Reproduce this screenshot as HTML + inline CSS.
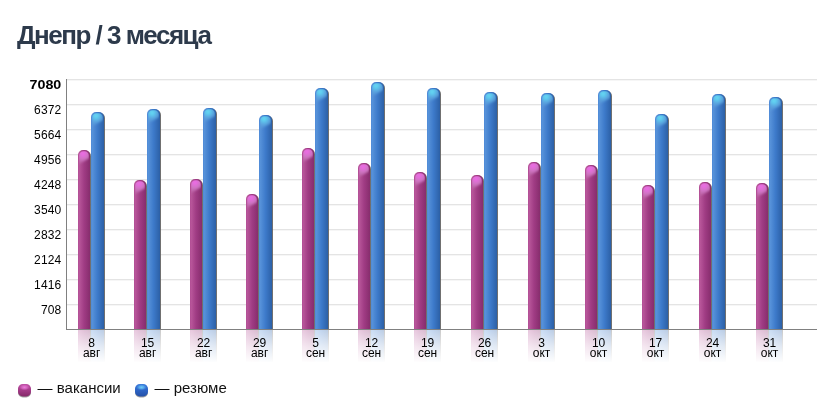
<!DOCTYPE html>
<html lang="ru"><head><meta charset="utf-8"><title>Днепр / 3 месяца</title>
<style>
html,body{margin:0;padding:0;background:#fff;}
body{width:836px;height:413px;overflow:hidden;position:relative;font-family:"Liberation Sans",sans-serif;}
h1{position:absolute;left:17px;top:19.6px;margin:0;font:bold 26px/30px "Liberation Sans",sans-serif;color:#2d3a4b;letter-spacing:-1.5px;white-space:nowrap;}
svg{position:absolute;left:0;top:0;}
.yl{font:12px "Liberation Sans",sans-serif;fill:#000;text-anchor:end;}
.xl{font:12px "Liberation Sans",sans-serif;fill:#000;text-anchor:middle;}
.lg{font:15px "Liberation Sans",sans-serif;fill:#111;}
</style></head><body>
<h1>Днепр / 3 месяца</h1>
<svg width="836" height="413" viewBox="0 0 836 413">
<defs>
<linearGradient id="gb" x1="0" x2="1" y1="0" y2="0"><stop offset="0" stop-color="#4a86d6"/><stop offset="0.08" stop-color="#5893da"/><stop offset="0.5" stop-color="#3d7aca"/><stop offset="1" stop-color="#2c60a6"/></linearGradient>
<linearGradient id="gp" x1="0" x2="1" y1="0" y2="0"><stop offset="0" stop-color="#b04c94"/><stop offset="0.1" stop-color="#b8569a"/><stop offset="0.5" stop-color="#a03c84"/><stop offset="1" stop-color="#872d6d"/></linearGradient>
<radialGradient id="hb" gradientUnits="userSpaceOnUse" cx="5" cy="3.8" r="11"><stop offset="0" stop-color="#6adcf4"/><stop offset="0.22" stop-color="#5ecaee"/><stop offset="0.5" stop-color="#5eaae2" stop-opacity="0.9"/><stop offset="1" stop-color="#5a98d8" stop-opacity="0.3"/></radialGradient>
<radialGradient id="hp" gradientUnits="userSpaceOnUse" cx="5" cy="3.6" r="11"><stop offset="0" stop-color="#f06eea"/><stop offset="0.2" stop-color="#e46cdc"/><stop offset="0.5" stop-color="#d27cc8" stop-opacity="0.9"/><stop offset="1" stop-color="#c074b0" stop-opacity="0.3"/></radialGradient>
<linearGradient id="rb" x1="0" x2="0" y1="0" y2="1"><stop offset="0" stop-color="#cfe0f4"/><stop offset="1" stop-color="#fff" stop-opacity="0"/></linearGradient>
<linearGradient id="rp" x1="0" x2="0" y1="0" y2="1"><stop offset="0" stop-color="#f0d4e8"/><stop offset="1" stop-color="#fff" stop-opacity="0"/></linearGradient>
<linearGradient id="sp" x1="0" x2="0" y1="0" y2="1"><stop offset="0" stop-color="#c050a6"/><stop offset="0.45" stop-color="#a63c8a"/><stop offset="1" stop-color="#842868"/></linearGradient>
<radialGradient id="shp" cx="0.5" cy="0.5" r="0.5"><stop offset="0" stop-color="#ec7edc"/><stop offset="0.5" stop-color="#dc6cc8" stop-opacity="0.8"/><stop offset="1" stop-color="#d468c0" stop-opacity="0"/></radialGradient>
<radialGradient id="shb" cx="0.5" cy="0.5" r="0.5"><stop offset="0" stop-color="#70ccf6"/><stop offset="0.5" stop-color="#5cb4f0" stop-opacity="0.8"/><stop offset="1" stop-color="#4a98e4" stop-opacity="0"/></radialGradient>
<filter id="bl2" x="-30%" y="-30%" width="160%" height="160%"><feGaussianBlur stdDeviation="0.7"/></filter>
<linearGradient id="sb" x1="0" x2="0" y1="0" y2="1"><stop offset="0" stop-color="#3c7cdc"/><stop offset="0.45" stop-color="#2e66c8"/><stop offset="1" stop-color="#2450a8"/></linearGradient>
<filter id="bl" x="-20%" y="-20%" width="140%" height="140%"><feGaussianBlur stdDeviation="0.9"/></filter>
<linearGradient id="fade" x1="0" x2="0" y1="0" y2="1"><stop offset="0" stop-color="#fff" stop-opacity="0.68"/><stop offset="0.5" stop-color="#fff" stop-opacity="0.86"/><stop offset="1" stop-color="#fff" stop-opacity="1"/></linearGradient>
<clipPath id="cpP"><path d="M1.2,20 V5.4 a4.2,4.2 0 0 1 4.2,-4.2 h1.1999999999999993 a4.2,4.2 0 0 1 4.2,4.2 V20 z"/></clipPath><g id="glP"><g clip-path="url(#cpP)"><path d="M-3,16.5 V-3 H15 V6.2 Q6.0,11.4 -3,16.5 z" fill="url(#hp)" filter="url(#bl)"/></g></g>
<clipPath id="cpB"><path d="M1.2,20 V5.4 a4.2,4.2 0 0 1 4.2,-4.2 h2.1999999999999993 a4.2,4.2 0 0 1 4.2,4.2 V20 z"/></clipPath><g id="glB"><g clip-path="url(#cpB)"><path d="M-3,16.5 V-3 H16 V6.2 Q6.5,11.4 -3,16.5 z" fill="url(#hb)" filter="url(#bl)"/></g></g>
</defs>

<rect x="67" y="79" width="750" height="1" fill="#e4e4e4"/><rect x="67" y="80" width="750" height="1" fill="#f6f6f6"/>
<rect x="67" y="104" width="750" height="1" fill="#e4e4e4"/><rect x="67" y="105" width="750" height="1" fill="#f6f6f6"/>
<rect x="67" y="129" width="750" height="1" fill="#e4e4e4"/><rect x="67" y="130" width="750" height="1" fill="#f6f6f6"/>
<rect x="67" y="154" width="750" height="1" fill="#e4e4e4"/><rect x="67" y="155" width="750" height="1" fill="#f6f6f6"/>
<rect x="67" y="179" width="750" height="1" fill="#e4e4e4"/><rect x="67" y="180" width="750" height="1" fill="#f6f6f6"/>
<rect x="67" y="204" width="750" height="1" fill="#e4e4e4"/><rect x="67" y="205" width="750" height="1" fill="#f6f6f6"/>
<rect x="67" y="229" width="750" height="1" fill="#e4e4e4"/><rect x="67" y="230" width="750" height="1" fill="#f6f6f6"/>
<rect x="67" y="254" width="750" height="1" fill="#e4e4e4"/><rect x="67" y="255" width="750" height="1" fill="#f6f6f6"/>
<rect x="67" y="279" width="750" height="1" fill="#e4e4e4"/><rect x="67" y="280" width="750" height="1" fill="#f6f6f6"/>
<rect x="67" y="304" width="750" height="1" fill="#e4e4e4"/><rect x="67" y="305" width="750" height="1" fill="#f6f6f6"/>
<rect x="66" y="79" width="1" height="251" fill="#808080"/>
<rect x="66" y="329" width="751" height="1" fill="#808080"/>
<rect x="78" y="330" width="12" height="32" fill="url(#gp)"/><rect x="90" y="330" width="1" height="32" fill="#5a5a5a"/>
<rect x="91" y="330" width="13" height="32" fill="url(#gb)"/><rect x="104" y="330" width="1" height="32" fill="#5a5a5a"/>
<rect x="77" y="330" width="29" height="33" fill="url(#fade)"/>
<path d="M86,151 a5,5 0 0 1 5,5 V329 h-5 z" fill="#606060" opacity="0.9"/>
<path d="M78,329 V155 a5,5 0 0 1 5,-5 h2 a5,5 0 0 1 5,5 V329 z" fill="url(#gp)"/>
<use href="#glP" x="78" y="150"/>
<path d="M100,113 a5,5 0 0 1 5,5 V329 h-5 z" fill="#606060" opacity="0.9"/>
<path d="M91,329 V117 a5,5 0 0 1 5,-5 h3 a5,5 0 0 1 5,5 V329 z" fill="url(#gb)"/>
<use href="#glB" x="91" y="112"/>
<rect x="134" y="330" width="12" height="32" fill="url(#gp)"/><rect x="146" y="330" width="1" height="32" fill="#5a5a5a"/>
<rect x="147" y="330" width="13" height="32" fill="url(#gb)"/><rect x="160" y="330" width="1" height="32" fill="#5a5a5a"/>
<rect x="133" y="330" width="29" height="33" fill="url(#fade)"/>
<path d="M142,181 a5,5 0 0 1 5,5 V329 h-5 z" fill="#606060" opacity="0.9"/>
<path d="M134,329 V185 a5,5 0 0 1 5,-5 h2 a5,5 0 0 1 5,5 V329 z" fill="url(#gp)"/>
<use href="#glP" x="134" y="180"/>
<path d="M156,110 a5,5 0 0 1 5,5 V329 h-5 z" fill="#606060" opacity="0.9"/>
<path d="M147,329 V114 a5,5 0 0 1 5,-5 h3 a5,5 0 0 1 5,5 V329 z" fill="url(#gb)"/>
<use href="#glB" x="147" y="109"/>
<rect x="190" y="330" width="12" height="32" fill="url(#gp)"/><rect x="202" y="330" width="1" height="32" fill="#5a5a5a"/>
<rect x="203" y="330" width="13" height="32" fill="url(#gb)"/><rect x="216" y="330" width="1" height="32" fill="#5a5a5a"/>
<rect x="189" y="330" width="29" height="33" fill="url(#fade)"/>
<path d="M198,180 a5,5 0 0 1 5,5 V329 h-5 z" fill="#606060" opacity="0.9"/>
<path d="M190,329 V184 a5,5 0 0 1 5,-5 h2 a5,5 0 0 1 5,5 V329 z" fill="url(#gp)"/>
<use href="#glP" x="190" y="179"/>
<path d="M212,109 a5,5 0 0 1 5,5 V329 h-5 z" fill="#606060" opacity="0.9"/>
<path d="M203,329 V113 a5,5 0 0 1 5,-5 h3 a5,5 0 0 1 5,5 V329 z" fill="url(#gb)"/>
<use href="#glB" x="203" y="108"/>
<rect x="246" y="330" width="12" height="32" fill="url(#gp)"/><rect x="258" y="330" width="1" height="32" fill="#5a5a5a"/>
<rect x="259" y="330" width="13" height="32" fill="url(#gb)"/><rect x="272" y="330" width="1" height="32" fill="#5a5a5a"/>
<rect x="245" y="330" width="29" height="33" fill="url(#fade)"/>
<path d="M254,195 a5,5 0 0 1 5,5 V329 h-5 z" fill="#606060" opacity="0.9"/>
<path d="M246,329 V199 a5,5 0 0 1 5,-5 h2 a5,5 0 0 1 5,5 V329 z" fill="url(#gp)"/>
<use href="#glP" x="246" y="194"/>
<path d="M268,116 a5,5 0 0 1 5,5 V329 h-5 z" fill="#606060" opacity="0.9"/>
<path d="M259,329 V120 a5,5 0 0 1 5,-5 h3 a5,5 0 0 1 5,5 V329 z" fill="url(#gb)"/>
<use href="#glB" x="259" y="115"/>
<rect x="302" y="330" width="12" height="32" fill="url(#gp)"/><rect x="314" y="330" width="1" height="32" fill="#5a5a5a"/>
<rect x="315" y="330" width="13" height="32" fill="url(#gb)"/><rect x="328" y="330" width="1" height="32" fill="#5a5a5a"/>
<rect x="301" y="330" width="29" height="33" fill="url(#fade)"/>
<path d="M310,149 a5,5 0 0 1 5,5 V329 h-5 z" fill="#606060" opacity="0.9"/>
<path d="M302,329 V153 a5,5 0 0 1 5,-5 h2 a5,5 0 0 1 5,5 V329 z" fill="url(#gp)"/>
<use href="#glP" x="302" y="148"/>
<path d="M324,89 a5,5 0 0 1 5,5 V329 h-5 z" fill="#606060" opacity="0.9"/>
<path d="M315,329 V93 a5,5 0 0 1 5,-5 h3 a5,5 0 0 1 5,5 V329 z" fill="url(#gb)"/>
<use href="#glB" x="315" y="88"/>
<rect x="358" y="330" width="12" height="32" fill="url(#gp)"/><rect x="370" y="330" width="1" height="32" fill="#5a5a5a"/>
<rect x="371" y="330" width="13" height="32" fill="url(#gb)"/><rect x="384" y="330" width="1" height="32" fill="#5a5a5a"/>
<rect x="357" y="330" width="29" height="33" fill="url(#fade)"/>
<path d="M366,164 a5,5 0 0 1 5,5 V329 h-5 z" fill="#606060" opacity="0.9"/>
<path d="M358,329 V168 a5,5 0 0 1 5,-5 h2 a5,5 0 0 1 5,5 V329 z" fill="url(#gp)"/>
<use href="#glP" x="358" y="163"/>
<path d="M380,83 a5,5 0 0 1 5,5 V329 h-5 z" fill="#606060" opacity="0.9"/>
<path d="M371,329 V87 a5,5 0 0 1 5,-5 h3 a5,5 0 0 1 5,5 V329 z" fill="url(#gb)"/>
<use href="#glB" x="371" y="82"/>
<rect x="414" y="330" width="12" height="32" fill="url(#gp)"/><rect x="426" y="330" width="1" height="32" fill="#5a5a5a"/>
<rect x="427" y="330" width="13" height="32" fill="url(#gb)"/><rect x="440" y="330" width="1" height="32" fill="#5a5a5a"/>
<rect x="413" y="330" width="29" height="33" fill="url(#fade)"/>
<path d="M422,173 a5,5 0 0 1 5,5 V329 h-5 z" fill="#606060" opacity="0.9"/>
<path d="M414,329 V177 a5,5 0 0 1 5,-5 h2 a5,5 0 0 1 5,5 V329 z" fill="url(#gp)"/>
<use href="#glP" x="414" y="172"/>
<path d="M436,89 a5,5 0 0 1 5,5 V329 h-5 z" fill="#606060" opacity="0.9"/>
<path d="M427,329 V93 a5,5 0 0 1 5,-5 h3 a5,5 0 0 1 5,5 V329 z" fill="url(#gb)"/>
<use href="#glB" x="427" y="88"/>
<rect x="471" y="330" width="12" height="32" fill="url(#gp)"/><rect x="483" y="330" width="1" height="32" fill="#5a5a5a"/>
<rect x="484" y="330" width="13" height="32" fill="url(#gb)"/><rect x="497" y="330" width="1" height="32" fill="#5a5a5a"/>
<rect x="470" y="330" width="29" height="33" fill="url(#fade)"/>
<path d="M479,176 a5,5 0 0 1 5,5 V329 h-5 z" fill="#606060" opacity="0.9"/>
<path d="M471,329 V180 a5,5 0 0 1 5,-5 h2 a5,5 0 0 1 5,5 V329 z" fill="url(#gp)"/>
<use href="#glP" x="471" y="175"/>
<path d="M493,93 a5,5 0 0 1 5,5 V329 h-5 z" fill="#606060" opacity="0.9"/>
<path d="M484,329 V97 a5,5 0 0 1 5,-5 h3 a5,5 0 0 1 5,5 V329 z" fill="url(#gb)"/>
<use href="#glB" x="484" y="92"/>
<rect x="528" y="330" width="12" height="32" fill="url(#gp)"/><rect x="540" y="330" width="1" height="32" fill="#5a5a5a"/>
<rect x="541" y="330" width="13" height="32" fill="url(#gb)"/><rect x="554" y="330" width="1" height="32" fill="#5a5a5a"/>
<rect x="527" y="330" width="29" height="33" fill="url(#fade)"/>
<path d="M536,163 a5,5 0 0 1 5,5 V329 h-5 z" fill="#606060" opacity="0.9"/>
<path d="M528,329 V167 a5,5 0 0 1 5,-5 h2 a5,5 0 0 1 5,5 V329 z" fill="url(#gp)"/>
<use href="#glP" x="528" y="162"/>
<path d="M550,94 a5,5 0 0 1 5,5 V329 h-5 z" fill="#606060" opacity="0.9"/>
<path d="M541,329 V98 a5,5 0 0 1 5,-5 h3 a5,5 0 0 1 5,5 V329 z" fill="url(#gb)"/>
<use href="#glB" x="541" y="93"/>
<rect x="585" y="330" width="12" height="32" fill="url(#gp)"/><rect x="597" y="330" width="1" height="32" fill="#5a5a5a"/>
<rect x="598" y="330" width="13" height="32" fill="url(#gb)"/><rect x="611" y="330" width="1" height="32" fill="#5a5a5a"/>
<rect x="584" y="330" width="29" height="33" fill="url(#fade)"/>
<path d="M593,166 a5,5 0 0 1 5,5 V329 h-5 z" fill="#606060" opacity="0.9"/>
<path d="M585,329 V170 a5,5 0 0 1 5,-5 h2 a5,5 0 0 1 5,5 V329 z" fill="url(#gp)"/>
<use href="#glP" x="585" y="165"/>
<path d="M607,91 a5,5 0 0 1 5,5 V329 h-5 z" fill="#606060" opacity="0.9"/>
<path d="M598,329 V95 a5,5 0 0 1 5,-5 h3 a5,5 0 0 1 5,5 V329 z" fill="url(#gb)"/>
<use href="#glB" x="598" y="90"/>
<rect x="642" y="330" width="12" height="32" fill="url(#gp)"/><rect x="654" y="330" width="1" height="32" fill="#5a5a5a"/>
<rect x="655" y="330" width="13" height="32" fill="url(#gb)"/><rect x="668" y="330" width="1" height="32" fill="#5a5a5a"/>
<rect x="641" y="330" width="29" height="33" fill="url(#fade)"/>
<path d="M650,186 a5,5 0 0 1 5,5 V329 h-5 z" fill="#606060" opacity="0.9"/>
<path d="M642,329 V190 a5,5 0 0 1 5,-5 h2 a5,5 0 0 1 5,5 V329 z" fill="url(#gp)"/>
<use href="#glP" x="642" y="185"/>
<path d="M664,115 a5,5 0 0 1 5,5 V329 h-5 z" fill="#606060" opacity="0.9"/>
<path d="M655,329 V119 a5,5 0 0 1 5,-5 h3 a5,5 0 0 1 5,5 V329 z" fill="url(#gb)"/>
<use href="#glB" x="655" y="114"/>
<rect x="699" y="330" width="12" height="32" fill="url(#gp)"/><rect x="711" y="330" width="1" height="32" fill="#5a5a5a"/>
<rect x="712" y="330" width="13" height="32" fill="url(#gb)"/><rect x="725" y="330" width="1" height="32" fill="#5a5a5a"/>
<rect x="698" y="330" width="29" height="33" fill="url(#fade)"/>
<path d="M707,183 a5,5 0 0 1 5,5 V329 h-5 z" fill="#606060" opacity="0.9"/>
<path d="M699,329 V187 a5,5 0 0 1 5,-5 h2 a5,5 0 0 1 5,5 V329 z" fill="url(#gp)"/>
<use href="#glP" x="699" y="182"/>
<path d="M721,95 a5,5 0 0 1 5,5 V329 h-5 z" fill="#606060" opacity="0.9"/>
<path d="M712,329 V99 a5,5 0 0 1 5,-5 h3 a5,5 0 0 1 5,5 V329 z" fill="url(#gb)"/>
<use href="#glB" x="712" y="94"/>
<rect x="756" y="330" width="12" height="32" fill="url(#gp)"/><rect x="768" y="330" width="1" height="32" fill="#5a5a5a"/>
<rect x="769" y="330" width="13" height="32" fill="url(#gb)"/><rect x="782" y="330" width="1" height="32" fill="#5a5a5a"/>
<rect x="755" y="330" width="29" height="33" fill="url(#fade)"/>
<path d="M764,184 a5,5 0 0 1 5,5 V329 h-5 z" fill="#606060" opacity="0.9"/>
<path d="M756,329 V188 a5,5 0 0 1 5,-5 h2 a5,5 0 0 1 5,5 V329 z" fill="url(#gp)"/>
<use href="#glP" x="756" y="183"/>
<path d="M778,98 a5,5 0 0 1 5,5 V329 h-5 z" fill="#606060" opacity="0.9"/>
<path d="M769,329 V102 a5,5 0 0 1 5,-5 h3 a5,5 0 0 1 5,5 V329 z" fill="url(#gb)"/>
<use href="#glB" x="769" y="97"/>
<text x="61.3" y="89" class="yl" style="font-weight:bold;font-size:12.6px" textLength="31.8" lengthAdjust="spacingAndGlyphs">7080</text>
<text x="61.3" y="114.3" class="yl" style="letter-spacing:0.12px">6372</text>
<text x="61.3" y="139.3" class="yl" style="letter-spacing:0.12px">5664</text>
<text x="61.3" y="164.3" class="yl" style="letter-spacing:0.12px">4956</text>
<text x="61.3" y="189.3" class="yl" style="letter-spacing:0.12px">4248</text>
<text x="61.3" y="214.3" class="yl" style="letter-spacing:0.12px">3540</text>
<text x="61.3" y="239.3" class="yl" style="letter-spacing:0.12px">2832</text>
<text x="61.3" y="264.3" class="yl" style="letter-spacing:0.12px">2124</text>
<text x="61.3" y="289.3" class="yl" style="letter-spacing:0.12px">1416</text>
<text x="61.3" y="314.3" class="yl" style="letter-spacing:0.12px">708</text>
<text x="91.6" y="346.5" class="xl">8</text>
<text x="91.6" y="357" class="xl">авг</text>
<text x="147.6" y="346.5" class="xl">15</text>
<text x="147.6" y="357" class="xl">авг</text>
<text x="203.6" y="346.5" class="xl">22</text>
<text x="203.6" y="357" class="xl">авг</text>
<text x="259.6" y="346.5" class="xl">29</text>
<text x="259.6" y="357" class="xl">авг</text>
<text x="315.6" y="346.5" class="xl">5</text>
<text x="315.6" y="357" class="xl">сен</text>
<text x="371.6" y="346.5" class="xl">12</text>
<text x="371.6" y="357" class="xl">сен</text>
<text x="427.6" y="346.5" class="xl">19</text>
<text x="427.6" y="357" class="xl">сен</text>
<text x="484.6" y="346.5" class="xl">26</text>
<text x="484.6" y="357" class="xl">сен</text>
<text x="541.6" y="346.5" class="xl">3</text>
<text x="541.6" y="357" class="xl">окт</text>
<text x="598.6" y="346.5" class="xl">10</text>
<text x="598.6" y="357" class="xl">окт</text>
<text x="655.6" y="346.5" class="xl">17</text>
<text x="655.6" y="357" class="xl">окт</text>
<text x="712.6" y="346.5" class="xl">24</text>
<text x="712.6" y="357" class="xl">окт</text>
<text x="769.6" y="346.5" class="xl">31</text>
<text x="769.6" y="357" class="xl">окт</text>
<rect x="18" y="385" width="13" height="12.5" rx="4.8" fill="#555" opacity="0.55" filter="url(#bl2)"/><rect x="18" y="384" width="13" height="12.5" rx="4.8" fill="url(#sp)"/><ellipse cx="24.5" cy="387.3" rx="5.2" ry="3" fill="url(#shp)"/>
<text x="37.6" y="393" class="lg">— вакансии</text>
<rect x="135" y="385" width="13" height="12.5" rx="4.8" fill="#555" opacity="0.55" filter="url(#bl2)"/><rect x="135" y="384" width="13" height="12.5" rx="4.8" fill="url(#sb)"/><ellipse cx="141.5" cy="387.3" rx="5.2" ry="3" fill="url(#shb)"/>
<text x="154.6" y="393" class="lg">— резюме</text>
</svg></body></html>
